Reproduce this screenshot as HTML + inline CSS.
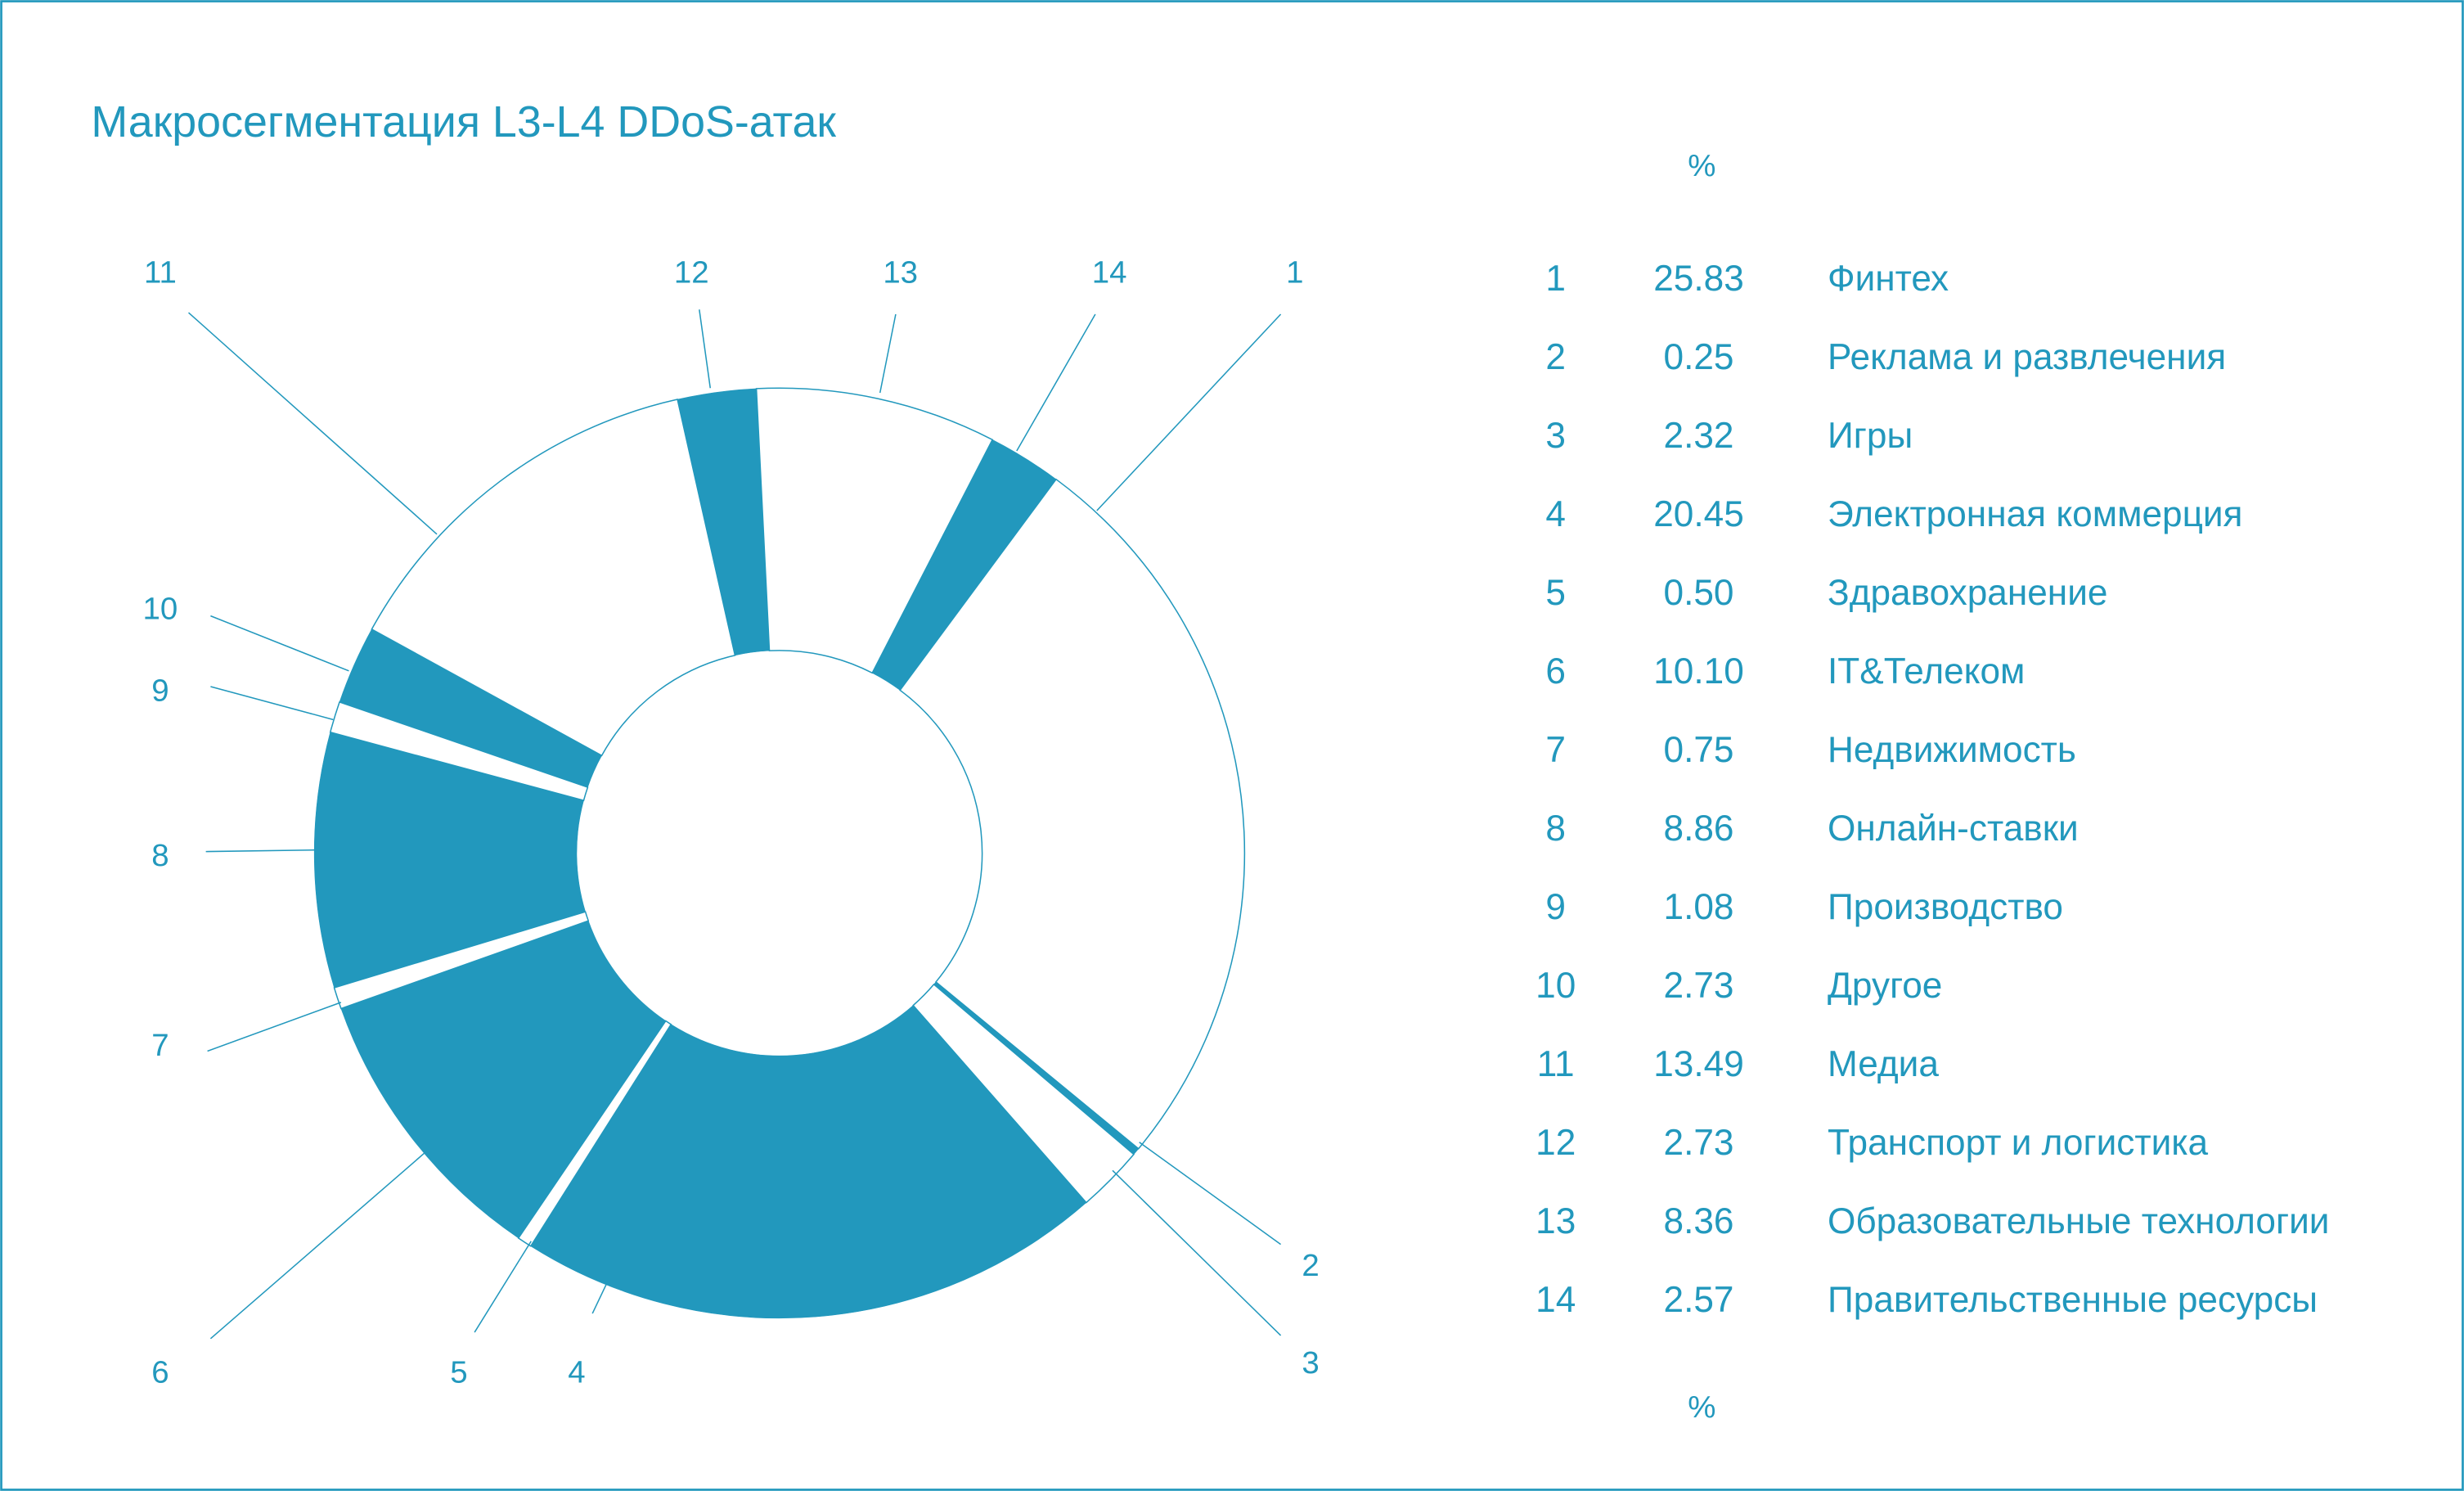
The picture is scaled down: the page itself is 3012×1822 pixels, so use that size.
<!DOCTYPE html>
<html><head><meta charset="utf-8"><style>
html,body{margin:0;padding:0;background:#fff;}
svg{display:block;font-family:"Liberation Sans",sans-serif;}
</style></head><body>
<svg id="chart" width="3012" height="1822" viewBox="0 0 1568 949" preserveAspectRatio="none" xmlns="http://www.w3.org/2000/svg">
<rect x="0.8" y="0.8" width="1566.4" height="947.4" fill="#fff" stroke="#2298bd" stroke-width="1.4"/>
<text x="58" y="87" font-size="28" fill="#2298bd">Макросегментация L3-L4 DDoS-атак</text>
<text x="1083" y="112" font-size="20" fill="#2298bd" text-anchor="middle">%</text>
<text x="1083" y="902" font-size="20" fill="#2298bd" text-anchor="middle">%</text>
<g id="slices"></g>
<g id="leaders"></g>
<g id="table"></g>
</svg>
<script>
const categories = ["Финтех","Реклама и развлечения","Игры","Электронная коммерция","Здравохранение","IT&Телеком","Недвижимость","Онлайн-ставки","Производство","Другое","Медиа","Транспорт и логистика","Образовательные технологии","Правительственные ресурсы"];
const values = [25.83,0.25,2.32,20.45,0.50,10.10,0.75,8.86,1.08,2.73,13.49,2.73,8.36,2.57];
const valueLabels = ["25.83","0.25","2.32","20.45","0.50","10.10","0.75","8.86","1.08","2.73","13.49","2.73","8.36","2.57"];

const NS = "http://www.w3.org/2000/svg";
const BLUE = "#2298bd";
const cx = 496, cy = 543, R = 296, r0 = 129, startDeg = 36.5;
const total = values.reduce((a,b)=>a+b,0);
function angle(v){ return (startDeg + v/total*360) * Math.PI/180; }
function pt(a, rad){ return [cx + rad*Math.sin(a), cy - rad*Math.cos(a)]; }

const gS = document.getElementById('slices');
let cum = 0;
values.forEach((v,i)=>{
  const a0 = angle(cum), a1 = angle(cum+v); cum += v;
  const large = (a1-a0) > Math.PI ? 1 : 0;
  const p0 = pt(a0,R), p1 = pt(a1,R), q1 = pt(a1,r0), q0 = pt(a0,r0);
  const d = `M${p0[0]},${p0[1]} A${R},${R} 0 ${large} 1 ${p1[0]},${p1[1]} L${q1[0]},${q1[1]} A${r0},${r0} 0 ${large} 0 ${q0[0]},${q0[1]} Z`;
  const p = document.createElementNS(NS,'path');
  p.setAttribute('d', d);
  const blue = (i % 2) === 1;
  p.setAttribute('fill', blue ? BLUE : '#fff');
  p.setAttribute('stroke', blue ? BLUE : BLUE);
  p.setAttribute('stroke-width', blue ? '0.3' : '0.8');
  
  
  gS.appendChild(p);
});

// leader annotations: [label x, label y, line start, line end]
const leaderLabels = ["1","2","3","4","5","6","7","8","9","10","11","12","13","14"];
const leaderGeom = [
 [824,173, 815,200, 698,325],
 [834,805, 815,792, 725,727],
 [834,867, 815,850, 708,745],
 [367,873, 377,836, 387,815],
 [292,873, 302,848, 338,790],
 [102,873, 134,852, 270,734],
 [102,665, 132,669, 217,638],
 [102,544, 131,542, 200,541],
 [102,439, 134,437, 212,458],
 [102,387, 134,392, 222,427],
 [102,173, 120,199, 278,340],
 [440,173, 445,197, 452,247],
 [573,173, 570,200, 560,250],
 [706,173, 697,200, 647,287]
];
const gL = document.getElementById('leaders');
leaderGeom.forEach((g,i)=>{
  const t = document.createElementNS(NS,'text');
  t.setAttribute('x', g[0]); t.setAttribute('y', g[1]+7);
  t.setAttribute('font-size','20'); t.setAttribute('fill',BLUE); t.setAttribute('text-anchor','middle');
  t.textContent = leaderLabels[i];
  
  
  gL.appendChild(t);
  const l = document.createElementNS(NS,'line');
  l.setAttribute('x1',g[2]); l.setAttribute('y1',g[3]); l.setAttribute('x2',g[4]); l.setAttribute('y2',g[5]);
  l.setAttribute('stroke',BLUE); l.setAttribute('stroke-width','0.8');
  
  
  gL.appendChild(l);
});

const gT = document.getElementById('table');
categories.forEach((c,i)=>{
  const y = 177 + i*50 + 8;
  const cells = [[990,'middle',String(i+1),'row-number'],[1081,'middle',valueLabels[i],'row-value'],[1163,'start',c,'row-category']];
  cells.forEach(cell=>{
    const t = document.createElementNS(NS,'text');
    t.setAttribute('x',cell[0]); t.setAttribute('y',y);
    t.setAttribute('font-size','23'); t.setAttribute('fill',BLUE); t.setAttribute('text-anchor',cell[1]);
    t.textContent = cell[2];
    
    
    gT.appendChild(t);
  });
});
</script>
</body></html>
